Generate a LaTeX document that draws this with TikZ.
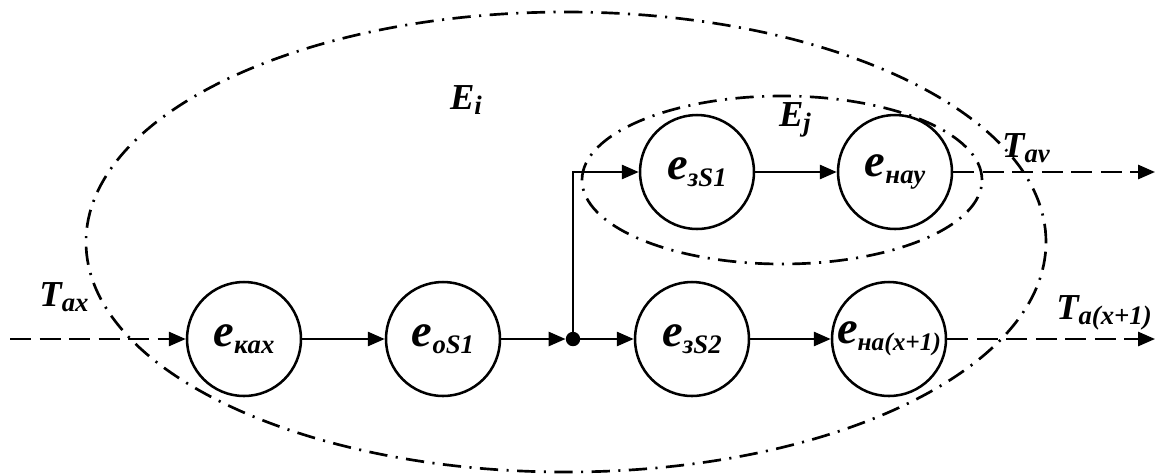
\documentclass[tikz,border=0pt]{standalone}
\usepackage{fontspec}
\setmainfont{Liberation Serif}
\usetikzlibrary{arrows.meta}

\newcommand{\lbl}[3]{#1\raisebox{-0.15em}{\fontsize{#2}{#2}\selectfont #3}}

\begin{document}
\begin{tikzpicture}[
  state/.style={draw, circle, line width=1.8pt, minimum size=2.85cm,
                inner sep=0pt, font=\bfseries\itshape\fontsize{33}{33}\selectfont},
  junc/.style={circle, fill=black, inner sep=0pt, minimum size=0.36cm},
  tlbl/.style={font=\bfseries\itshape\fontsize{26}{26}\selectfont},
  arr/.style={-{Triangle[length=12pt,width=10pt]}, line width=1.7pt},
  darr/.style={arr, dash pattern=on 15pt off 6pt},
  region/.style={line width=1.9pt, dash pattern=on 13pt off 6pt on 1.5pt off 6pt}
]
\useasboundingbox (0,0) rectangle (29,-11.85);

%% Sets of states
\draw[region] (14.15,-6.05) ellipse (12 and 5.75);
\draw[region] (19.55,-4.5) ellipse (5 and 2.1);
\node[tlbl] (Ei) at (11.65,-2.5) {\lbl{E}{19}{i}};
\node[tlbl] (Ej) at (19.875,-3.0) {\lbl{E}{19}{j}};

%% Lower chain
\node[state] (kax) at ( 6.1,  -8.475) {\lbl{e}{19}{кax}};
\node[state] (os1) at (11.075,-8.475) {\lbl{e}{19}{oS1}};
\node[junc]  (dot) at (14.325,-8.475) {};
\node[state] (zs2) at (17.3,  -8.475) {\lbl{e}{19}{зS2}};
\node[state] (na)  at (22.225,-8.475) {\lbl{e}{18}{на(x+1)}};

%% Upper chain
\node[state] (zs1) at (17.425,-4.3) {\lbl{e}{19}{зS1}};
\node[state] (nau) at (22.375,-4.3) {\lbl{e}{19}{нау}};

%% Inputs and outputs
\coordinate (tin)  at (0.25,  -8.475);
\coordinate (tav)  at (28.875,-4.3);
\coordinate (tax1) at (28.875,-8.475);
\node[tlbl] (Tax)  at (1.6,  -7.425) {\lbl{T}{19}{ax}};
\node[tlbl] (Tav)  at (25.65,-3.7)   {\lbl{T}{19}{av}};
\node[tlbl] (Tax1) at (27.6, -7.825) {\lbl{T}{19}{a(x+1)}};

%% Connectors
\draw[darr] (tin) -- (kax.west);
\draw[arr] (kax) -- (os1);
\draw[arr] (os1.east) -- (dot.west);
\draw[arr] (dot) -- (zs2.west);
\draw[arr] (dot.center) |- (zs1.west);
\draw[arr] (zs2) -- (na);
\draw[arr] (zs1) -- (nau);
\draw[darr] (nau.east) -- (tav);
\draw[darr] (na.east) -- (tax1);
\end{tikzpicture}
\end{document}
